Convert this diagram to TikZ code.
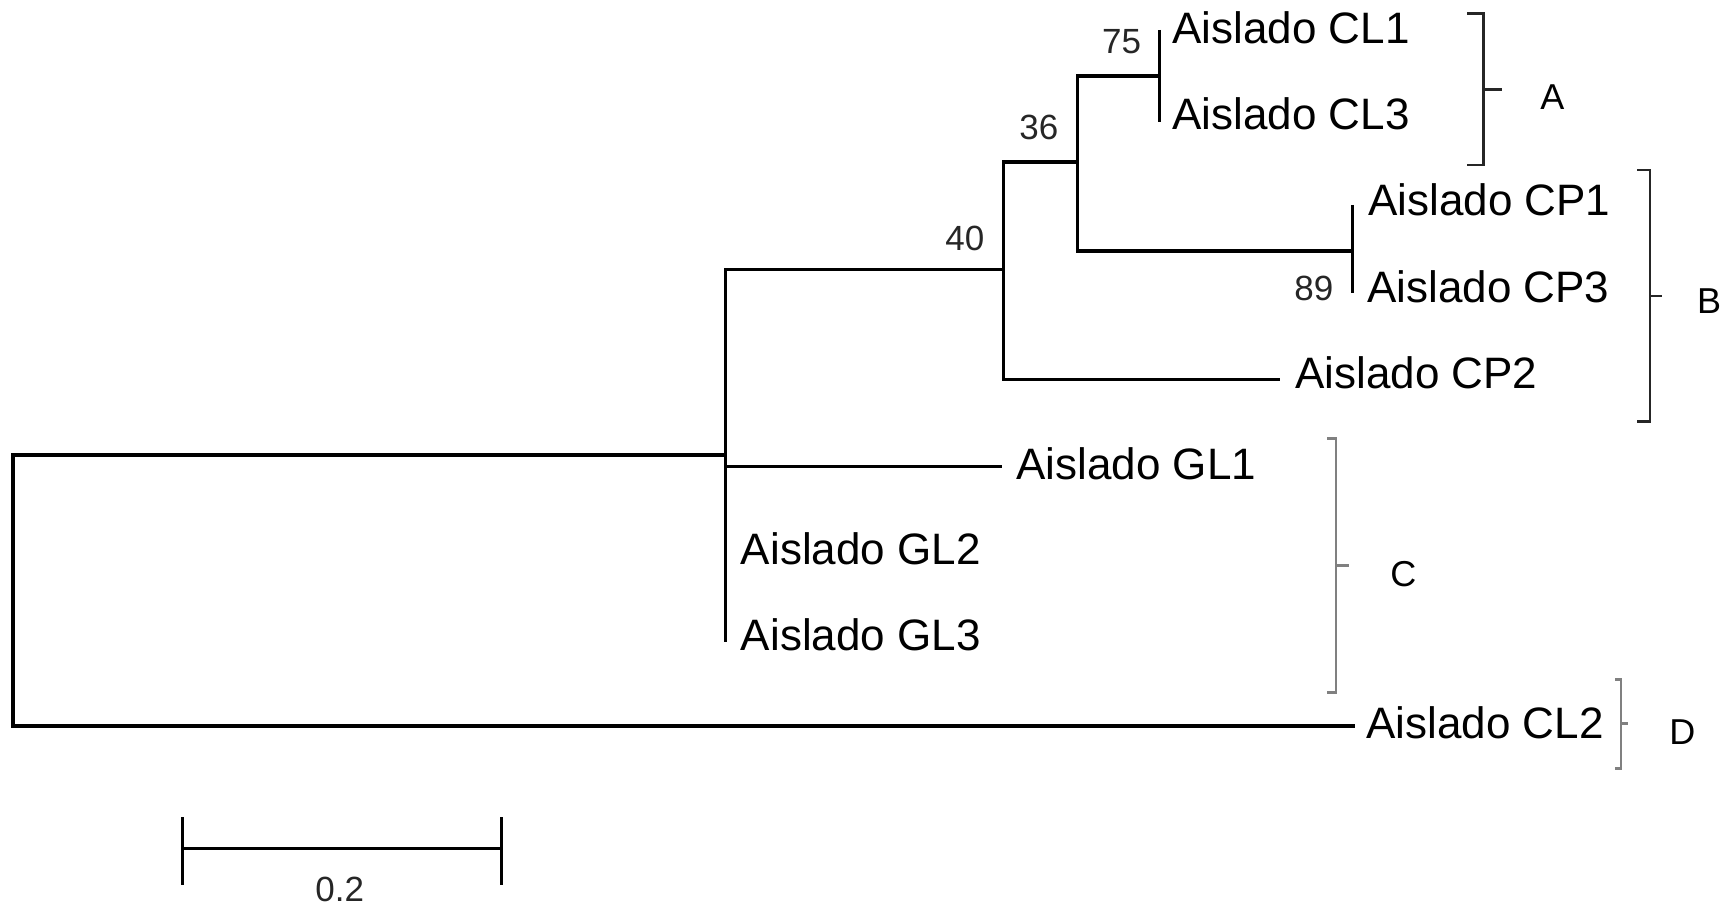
\documentclass[tikz,border=0pt]{standalone}
\usepackage{fontspec}
\setmainfont{Liberation Sans}
\begin{document}
\begin{tikzpicture}[x=0.5pt,y=-0.5pt,
  branch/.style={line width=1.7pt,black,line join=miter},
  taxon/.style={inner sep=0pt,anchor=base west,font=\fontsize{22pt}{24pt}\selectfont},
  support/.style={inner sep=0pt,anchor=base west,text=black!85,font=\fontsize{17.5pt}{19pt}\selectfont},
  group/.style={inner sep=0pt,anchor=base west,font=\fontsize{18pt}{20pt}\selectfont},
  clade/.style={line width=1.4pt,draw=black!85},
  cladegray/.style={line width=1.4pt,draw=black!50},
  scalebar/.style={line width=1.7pt,black}]
\useasboundingbox (0,0) rectangle (1724,908);

% internal nodes
\coordinate (root) at (13,590.5);
\coordinate (n1)   at (725.7,455);
\coordinate (n40)  at (1003.3,269.5);
\coordinate (n36)  at (1077.7,162);
\coordinate (n75)  at (1159.5,76);
\coordinate (n89)  at (1352.5,251);

% leaf tips
\coordinate (cl1) at (1159.5,30);
\coordinate (cl3) at (1159.5,121.7);
\coordinate (cp1) at (1352.5,205);
\coordinate (cp3) at (1352.5,293);
\coordinate (cp2) at (1279.5,379.3);
\coordinate (gl1) at (1001.7,466.7);
\coordinate (gl2) at (725.7,554);
\coordinate (gl3) at (725.7,641.7);
\coordinate (cl2) at (1355,726);

% branches
\draw[branch] (root) |- (n1);
\draw[branch] (root) |- (cl2);
\draw[branch] (n1) |- (n40);
\draw[branch] (n1) |- (gl1);
\draw[branch] (n1) -- (gl3);
\draw[branch] (n40) |- (n36);
\draw[branch] (n40) |- (cp2);
\draw[branch] (n36) |- (n75);
\draw[branch] (n36) |- (n89);
\draw[branch] (cl1) -- (cl3);
\draw[branch] (cp1) -- (cp3);

% taxon labels
\node[taxon] (tcl1) at (1172,43.3)  {Aislado CL1};
\node[taxon] (tcl3) at (1172,129.3) {Aislado CL3};
\node[taxon] (tcp1) at (1368,216)   {Aislado CP1};
\node[taxon] (tcp3) at (1367,302.7) {Aislado CP3};
\node[taxon] (tcp2) at (1295,389)   {Aislado CP2};
\node[taxon] (tgl1) at (1016,479.3) {Aislado GL1};
\node[taxon] (tgl2) at (740.5,565)  {Aislado GL2};
\node[taxon] (tgl3) at (740.5,650)  {Aislado GL3};
\node[taxon] (tcl2) at (1366,738.3) {Aislado CL2};

% bootstrap values
\node[support] (b75) at (1101.7,53.5) {75};
\node[support] (b36) at (1019,140)    {36};
\node[support] (b40) at (945,251)     {40};
\node[support] (b89) at (1294,301)    {89};

% group brackets
\draw[clade] (1467,13.3) -- (1483.3,13.3) -- (1483.3,165) -- (1467,165);
\draw[clade] (1483.3,89.3) -- (1501.7,89.3);
\node[group] (ga) at (1540,110) {A};

\draw[clade] (1637,170) -- (1650,170) -- (1650,421.7) -- (1637,421.7);
\draw[clade] (1650,296) -- (1661.7,296);
\node[group] (gb) at (1696.7,314) {B};

\draw[cladegray] (1327,438.3) -- (1336,438.3) -- (1336,692.7) -- (1327,692.7);
\draw[cladegray] (1336,565.7) -- (1349,565.7);
\node[group] (gc) at (1390,586.7) {C};

\draw[cladegray] (1615,679.3) -- (1621,679.3) -- (1621,768.3) -- (1615,768.3);
\draw[cladegray] (1621,723.3) -- (1628.3,723.3);
\node[group] (gd) at (1669,744) {D};

% scale bar
\coordinate (sbl) at (182.7,848.3);
\coordinate (sbr) at (501.7,848.3);
\draw[scalebar] (sbl) -- (sbr);
\draw[scalebar] ([yshift=15.5]sbl) -- ([yshift=-18.5]sbl);
\draw[scalebar] ([yshift=15.5]sbr) -- ([yshift=-18.5]sbr);
\node[support] (sb) at (315,901) {0.2};
\end{tikzpicture}
\end{document}
